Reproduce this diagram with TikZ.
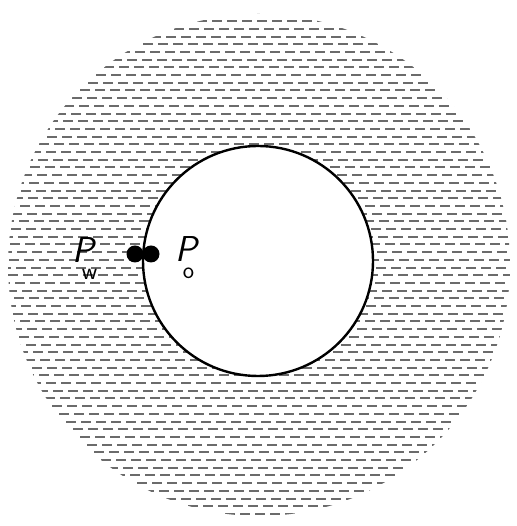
\documentclass[tikz,border=0pt]{standalone}
\usepackage{tikz}
\usetikzlibrary{positioning}

\newcommand{\subtxt}[1]{\raisebox{-17pt}{\fontsize{24}{24}\selectfont #1}}

\begin{document}
\begin{tikzpicture}[x=1pt, y=1pt,
  hatch/.style={black!58, line width=2pt},
  pore/.style={
    circle, draw=black, fill=white,
    line width=2.4pt, inner sep=0pt,
    minimum size=230pt
  },
  dot/.style={circle, fill=black, inner sep=0pt, minimum size=17pt},
  lbl/.style={font=\fontsize{36}{36}\selectfont\sffamily, inner sep=0pt, anchor=base west}
]
  \useasboundingbox (0,0) rectangle (516,526);
  \coordinate (c) at (259,261);
  % shaded medium round the pore
  \begin{scope}
    \clip (c) circle (251);
    \foreach \i [evaluate=\i as \ph using {mod(\i*7,15)}] in {0,...,66}
      \draw[hatch, dash pattern=on 10pt off 5pt, dash phase=\ph pt]
        (0,{12+\i*7.7}) -- (516,{12+\i*7.7});
  \end{scope}
  \node[pore] (pore) at (258,265) {};
  \node[dot] (w) at (135,272) {};
  \node[dot] (o) at (151,272) {};
  \node[lbl] (pw) at (72,263) {{\slshape P}\kern-12pt\subtxt{w}};
  \node[lbl] (po) at (175,264) {{\slshape P}\kern-14pt\subtxt{o}};
\end{tikzpicture}
\end{document}
